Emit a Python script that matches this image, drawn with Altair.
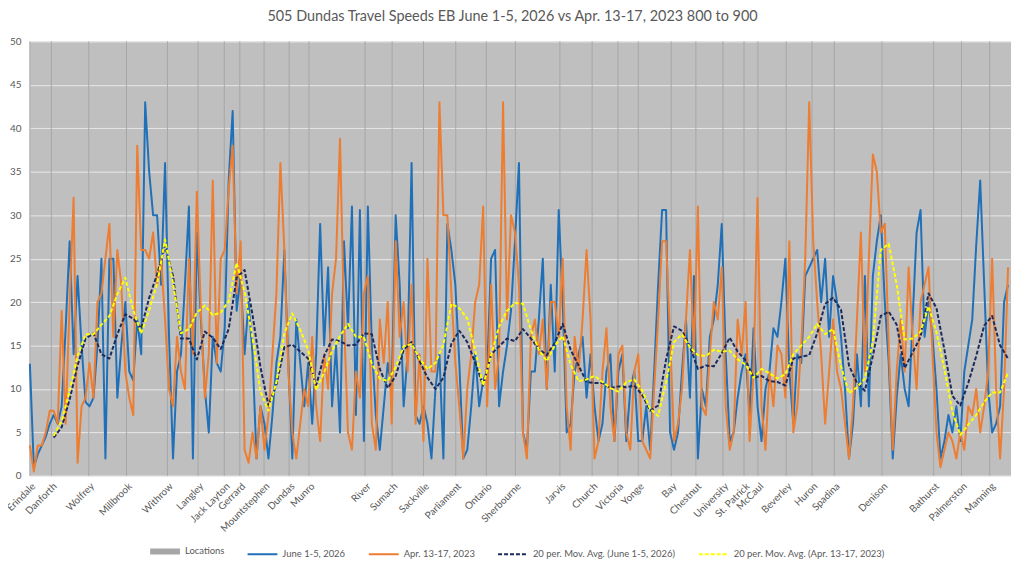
import altair as alt
import pandas as pd

title_text = "505 Dundas Travel Speeds EB June 1-5, 2026 vs Apr. 13-17, 2023 800 to 900"

loc_names = ["Erindale", "Danforth", "Wolfrey", "Millbrook", "Withrow", "Langley",
             "Jack Layton", "Gerrard", "Mountstephen", "Dundas", "Munro", "River",
             "Sumach", "Sackville", "Parliament", "Ontario", "Sherbourne", "Jarvis",
             "Church", "Victoria", "Yonge", "Bay", "Chestnut", "University",
             "St. Patrick", "McCaul", "Beverley", "Huron", "Spadina", "Denison",
             "Bathurst", "Palmerston", "Manning"]
loc_pos = [0, 5.4, 14.8, 24.3, 34.6, 42.3, 48.9, 52.8, 58.9, 65.2, 70.2, 84.3,
           91.1, 99, 107.1, 114.8, 122.1, 133.3, 141.4, 147.9, 153, 161.3, 167.5,
           174.3, 179.6, 183.1, 190.2, 196.7, 202.3, 214.3, 227.3, 234.3, 241.4]

june_2026 = [
    12.9, 1.0, 2.5, 3.5, 4.5, 6, 7, 6, 8, 17,
    27, 14, 23, 15, 8.5, 8, 9, 15, 25, 2,
    25, 25, 9, 15, 20, 12, 11, 18, 14, 43,
    35, 30, 30, 22, 36, 16, 2, 12, 14, 22,
    31, 2, 28, 18, 10, 5, 16, 13, 12, 17,
    34, 42, 19, 23, 14, 20, 14, 2, 8, 6,
    2, 7, 13, 16, 26, 13, 2, 18, 13, 8,
    13, 6, 14, 29, 15, 24, 8, 15, 5, 27,
    17, 31, 7, 30.6, 4, 31, 15, 7, 3, 8,
    13, 10, 30, 22, 8, 14, 36, 7, 6, 8,
    6, 2, 10, 14, 2, 29, 26, 22, 13, 2,
    3, 8, 14, 8, 11, 12, 25, 26, 8, 12,
    15, 19, 27, 36, 5, 3, 12, 12, 18, 25,
    10, 22, 12, 30.6, 20, 5, 6, 12, 14, 16,
    9, 14, 8, 4, 6, 12, 14, 4, 12, 14,
    4, 10, 12, 4, 4, 8, 3, 12, 22, 30.6,
    30.6, 5, 3, 5, 12, 18, 9, 23, 2, 10,
    8, 16, 18, 22, 29, 14, 4, 5, 9, 12,
    14, 7, 17, 8, 4, 10, 12, 17, 16, 20,
    25, 12, 6, 14, 13, 23, 24, 25, 26, 20,
    25, 16, 23, 20, 16, 10, 2, 6, 14, 8,
    23, 8, 23, 27, 30, 20, 13, 2, 9, 14,
    10, 8, 18, 28, 30.6, 16, 20, 16, 10, 2,
    4, 7, 5, 8, 4, 12, 15, 18, 26.6, 34,
    22, 10, 5, 6, 8, 20, 22,
]

apr_2023 = [
    3.5, 0.5, 3.5, 3.5, 5, 7.5, 7.5, 6, 19, 6,
    20, 32, 1.5, 8, 9, 13, 9, 20, 21, 25,
    29, 16, 26, 22, 12, 9, 7, 38, 26, 26,
    25, 28, 22, 25, 18, 10, 8, 16, 12, 10,
    25, 14, 32.7, 19, 9, 14, 34, 13, 25, 26,
    33, 38, 21, 27, 3, 1.5, 5, 2, 8, 3,
    7, 14, 21, 36, 26, 12, 5, 2, 6, 10,
    8, 16, 8, 4, 14, 10, 21, 25, 38.8, 18,
    5, 3, 12, 9, 21, 23, 6, 3, 18, 13,
    20, 6, 27, 16, 20, 12, 22, 6, 14, 4,
    25, 12, 12, 43, 30, 30, 21, 13, 8, 2,
    10, 14, 20, 22, 31, 8, 22, 10, 14, 43,
    18, 30, 28, 22, 5, 2, 16, 18, 14, 18,
    10, 20, 20, 16, 25, 8, 3, 16, 12, 18,
    26, 18, 2, 4, 12, 17, 8, 4, 14, 15,
    5, 3, 12, 14, 4, 3, 2, 10, 18, 27,
    27, 16, 4, 6, 10, 18, 26, 14, 31, 8,
    7, 14, 20, 18, 24, 8, 3, 5, 18, 14,
    20, 4, 12, 32, 8, 3, 12, 8, 15, 14,
    9, 27, 5, 8, 15, 25, 43, 27, 20, 14,
    6, 12, 18, 12, 10, 6, 2, 8, 18, 28,
    12, 25, 37, 35, 28, 29, 15, 3, 12, 18,
    12, 24, 16, 10, 20, 22, 24, 14, 5, 1,
    3, 5, 4, 2, 5, 3, 8, 7, 10, 5,
    8, 12, 25, 10, 2, 10, 24,
]

ma_june_2026 = [
    4.4, 5.6, 8.8, 12.7, 15.8, 16.4, 14.0, 13.5, 16.3, 18.6,
    18.1, 17.0, 20.5, 23.2, 26.5, 23.0, 15.8, 15.8, 13.4, 16.6,
    15.9, 14.6, 16.9, 22.8, 23.7, 18.5, 12.5, 8.1, 10.5, 14.8,
    15.1, 14.3, 13.5, 10.4, 13.8, 15.7, 15.5, 15.0, 15.1, 16.4,
    16.3, 12.3, 10.1, 11.5, 14.5, 15.4, 13.2, 11.3, 10.0, 11.3,
    15.2, 16.7, 15.4, 13.0, 10.4, 14.0, 14.9, 15.8, 15.5, 16.9,
    15.8, 14.6, 13.9, 15.3, 17.5, 14.5, 12.7, 10.8, 10.7, 10.7,
    10.1, 10.3, 10.2, 10.4, 9.3, 7.5, 8.1, 13.4, 17.2, 16.7,
    14.9, 12.3, 12.7, 12.6, 14.1, 15.9, 14.3, 13.3, 11.3, 11.5,
    10.9, 10.8, 10.4, 13.5, 13.7, 13.9, 16.4, 19.8, 20.5, 19.1,
    12.7, 10.7, 9.8, 13.8, 18.4, 18.9, 17.4, 12.4, 14.2, 16.0,
    21.0, 19.3, 14.5, 9.2, 8.1, 10.7, 13.8, 17.3, 18.4, 15.0,
    13.5,
]

ma_apr_2023 = [
    4.6, 6.3, 9.8, 13.8, 16.3, 16.3, 17.4, 18.4, 20.9, 22.8,
    19.1, 16.4, 19.1, 22.1, 27.2, 22.2, 16.4, 16.9, 18.8, 19.6,
    18.5, 18.8, 20.1, 24.5, 21.2, 15.9, 9.7, 7.5, 10.8, 16.4,
    18.7, 16.8, 14.5, 9.9, 11.9, 14.4, 16.1, 17.5, 16.0, 16.0,
    12.9, 11.2, 10.9, 12.5, 14.9, 15.2, 13.5, 12.3, 13.0, 15.1,
    19.8, 19.3, 18.1, 14.4, 10.4, 13.9, 17.2, 19.0, 19.9, 19.8,
    16.8, 14.5, 13.2, 15.0, 16.1, 12.8, 10.9, 11.1, 11.5, 10.8,
    10.1, 9.7, 10.8, 11.1, 9.8, 7.7, 6.9, 10.8, 15.4, 16.3,
    14.8, 13.9, 13.8, 14.5, 14.3, 14.4, 13.4, 12.8, 11.3, 12.3,
    11.8, 11.2, 11.7, 14.0, 15.0, 16.0, 17.5, 16.3, 16.9, 12.6,
    9.5, 10.2, 11.2, 15.5, 26.0, 26.7, 22.0, 15.7, 15.8, 16.6,
    19.5, 16.5, 12.3, 7.4, 4.7, 5.9, 7.0, 8.5, 9.6, 9.6,
    11.9,
]
ma_start = 6
ma_step = 2

series_names = ["Locations", "June 1-5, 2026", "Apr. 13-17, 2023",
                "20 per. Mov. Avg. (June 1-5, 2026)",
                "20 per. Mov. Avg. (Apr. 13-17, 2023)"]
series_colors = ["#a6a6a6", "#1f70b8", "#ed7d31", "#1c2a5c", "#ffff00"]
series_dash = [[1, 0], [1, 0], [1, 0], [4, 2], [4, 2]]
series_width = [6, 2, 2, 2, 2]

x_max = 246.75
y_ticks = [0, 5, 10, 15, 20, 25, 30, 35, 40, 45, 50]

# ---- tables
loc_df = pd.DataFrame({"pos": loc_pos, "name": loc_names,
                       "val": [50] * len(loc_pos), "val0": [0] * len(loc_pos),
                       "series": series_names[0]})
june_df = pd.DataFrame({"pos": list(range(len(june_2026))), "val": june_2026,
                        "series": series_names[1]})
apr_df = pd.DataFrame({"pos": list(range(len(apr_2023))), "val": apr_2023,
                       "series": series_names[2]})
maj_df = pd.DataFrame({"pos": [ma_start + ma_step * i for i in range(len(ma_june_2026))],
                       "val": ma_june_2026, "series": series_names[3]})
maa_df = pd.DataFrame({"pos": [ma_start + ma_step * i for i in range(len(ma_apr_2023))],
                       "val": ma_apr_2023, "series": series_names[4]})

names_js = "[" + ",".join("'" + n.replace("'", "\\'") + "'" for n in loc_names) + "]"
pos_js = "[" + ",".join(repr(p) for p in loc_pos) + "]"
label_expr = f"{names_js}[indexof({pos_js}, datum.value)]"

FONT = "Lato"
GRAY = "#595959"
BG = "#bfbfbf"

x_enc = alt.X("pos:Q",
              scale=alt.Scale(domain=[0, x_max], nice=False, zero=False),
              axis=alt.Axis(values=loc_pos, labelExpr=label_expr, labelAngle=-45,
                            labelAlign="right", labelBaseline="top",
                            labelOverlap=False, labelBound=False, labelFlush=False,
                            ticks=False, domain=False, grid=False,
                            labelPadding=5, labelFontSize=10, labelColor=GRAY,
                            labelFont=FONT),
              title=None)
y_enc = alt.Y("val:Q",
              scale=alt.Scale(domain=[0, 50], nice=False),
              axis=alt.Axis(values=y_ticks, ticks=False, domain=False, grid=True,
                            gridColor="#e8e8e8", gridWidth=1, labelPadding=9,
                            labelFontSize=10, labelColor=GRAY, labelFont=FONT),
              title=None)

leg = alt.Legend(orient="none", legendX=118, legendY=495, direction="horizontal",
                 symbolType="stroke", symbolSize=900, labelFont=FONT,
                 labelFontSize=9.5, labelColor=GRAY, columnPadding=19,
                 labelOffset=2, columns=5)

color_enc = alt.Color("series:N", scale=alt.Scale(domain=series_names, range=series_colors),
                      legend=leg, title=None)
dash_enc = alt.StrokeDash("series:N", scale=alt.Scale(domain=series_names, range=series_dash),
                          legend=leg, title=None)
width_enc = alt.StrokeWidth("series:N",
                            scale=alt.Scale(type="ordinal", domain=series_names, range=series_width),
                            legend=leg, title=None)

rules = alt.Chart(loc_df).mark_rule(strokeWidth=1).encode(
    x=x_enc, y=y_enc, y2="val0:Q", color=color_enc)


def line_layer(df):
    return alt.Chart(df).mark_line(strokeCap="butt", strokeJoin="round").encode(
        x=x_enc, y=y_enc, color=color_enc, strokeDash=dash_enc, strokeWidth=width_enc,
        order="pos:Q")


chart = alt.layer(
    rules, line_layer(june_df), line_layer(apr_df), line_layer(maj_df), line_layer(maa_df)
).properties(
    width=987, height=437,
    title=alt.TitleParams(title_text, font=FONT, fontSize=14.5, fontWeight="normal",
                          color=GRAY, anchor="middle", dx=-8, offset=12),
    autosize="none",
    padding={"left": 22, "top": 32, "right": 5, "bottom": 82},
    view=alt.ViewBackground(fill=BG, strokeWidth=0),
).configure_view(fill=BG, strokeWidth=0).configure(font=FONT)

chart.save("out.html", embed_options={"renderer": "svg", "actions": False})
